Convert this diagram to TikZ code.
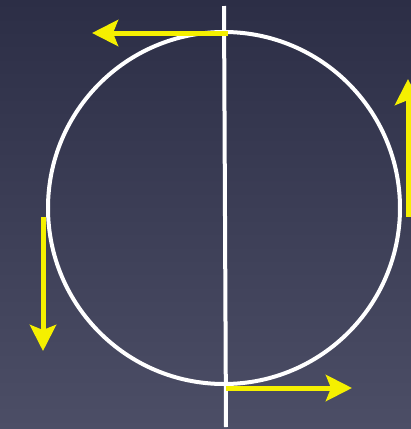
\documentclass[tikz,border=0pt]{standalone}
\usetikzlibrary{arrows.meta}
\definecolor{bgtop}{HTML}{2C2E46}
\definecolor{bgbot}{HTML}{4C4E66}
\definecolor{arrowyellow}{HTML}{F5F000}
\tikzset{
  ring/.style={draw=white, line width=4pt},
  axis/.style={draw=white, line width=4pt},
  spin/.style={draw=arrowyellow, line width=5pt, -{Stealth[length=26pt,width=26pt,inset=5pt]}},
}
\begin{document}
\begin{tikzpicture}[x=1pt,y=-1pt]
\useasboundingbox (0,0) rectangle (411,429);
\clip (0,0) rectangle (411,429);
\shade[top color=bgtop, bottom color=bgbot] (0,0) rectangle (411,429);
\node[circle, ring, minimum size=352pt, inner sep=0pt] (c) at (224,208) {};
\coordinate (axtop) at (224,6);
\coordinate (axbot) at (226,427);
\draw[axis] (axtop) -- (axbot);
\coordinate (t1) at (228,33);
\coordinate (t2) at (92,33);
\coordinate (r1) at (408,217);
\coordinate (r2) at (408,79);
\coordinate (l1) at (43,217);
\coordinate (l2) at (43,351);
\coordinate (b1) at (226,388);
\coordinate (b2) at (352,388);
\draw[spin] (t1) -- (t2);
\draw[spin] (r1) -- (r2);
\draw[spin] (l1) -- (l2);
\draw[spin] (b1) -- (b2);
\end{tikzpicture}
\end{document}
